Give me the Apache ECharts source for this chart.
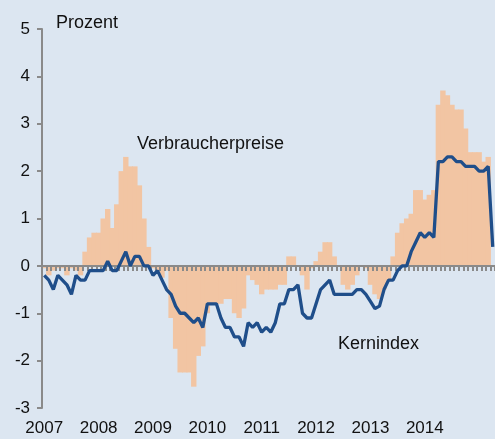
<!DOCTYPE html>
<html>
<head>
<meta charset="utf-8">
<script src="https://cdn.jsdelivr.net/npm/echarts@6/dist/echarts.min.js"></script>
<style>
  html, body { margin: 0; padding: 0; background: #dce6f1; }
  #main { width: 495px; height: 439px; }
</style>
</head>
<body>
<div id="main"></div>
<script>
// Jahre der x-Achse (Beschriftung jeweils im Januar)
const years = ['2007', '2008', '2009', '2010', '2011', '2012', '2013', '2014', '2015']
const shownYears = ['2007', '2008', '2009', '2010', '2011', '2012', '2013', '2014']
const monthCount = 100

// Verbraucherpreise, Veränderung in Prozent (Balken)
const verbraucherpreise = [
  -0.05, -0.2, -0.1, -0.05, -0.05, -0.2, -0.05, -0.1, -0.2,
  0.3, 0.6, 0.7, 0.7, 1.0, 1.2, 0.8, 1.3, 2.0, 2.3, 2.1, 2.1, 1.7, 1.0, 0.4,
  -0.05, -0.1, -0.25, -0.1, -1.1, -1.75, -2.25, -2.25, -2.25, -2.55, -1.9, -1.7,
  -1.0, -0.8, -0.8, -0.8, -0.7, -0.7, -1.0, -1.1, -0.9, -0.2, -0.3, -0.4,
  -0.6, -0.5, -0.5, -0.5, -0.4, -0.4, 0.2, 0.2, 0.0, -0.2, -0.5, -0.05,
  0.1, 0.3, 0.5, 0.5, 0.2, 0.0, -0.4, -0.5, -0.4, -0.2, 0.0, -0.05,
  -0.4, -0.6, -0.7, -0.5, -0.3, 0.2, 0.7, 0.9, 1.0, 1.1, 1.6, 1.6,
  1.4, 1.5, 1.6, 3.4, 3.7, 3.6, 3.4, 3.3, 3.3, 2.9, 2.4, 2.4,
  2.4, 2.2, 2.3, null
]

// Kernindex (Linie)
const kernindex = [
  -0.2, -0.3, -0.5, -0.2, -0.3, -0.4, -0.6, -0.2, -0.3, -0.3, -0.1, -0.1,
  -0.1, -0.1, 0.1, -0.1, -0.1, 0.1, 0.3, 0.0, 0.2, 0.2, 0.0, 0.0,
  -0.2, -0.1, -0.3, -0.5, -0.6, -0.85, -1.0, -1.0, -1.1, -1.2, -1.1, -1.3,
  -0.8, -0.8, -0.8, -1.1, -1.3, -1.3, -1.5, -1.5, -1.7, -1.2, -1.3, -1.2,
  -1.4, -1.3, -1.4, -1.2, -0.8, -0.8, -0.5, -0.5, -0.4, -1.0, -1.1, -1.1,
  -0.8, -0.5, -0.4, -0.3, -0.6, -0.6, -0.6, -0.6, -0.6, -0.5, -0.5, -0.6,
  -0.75, -0.9, -0.85, -0.5, -0.3, -0.3, -0.1, 0.0, 0.0, 0.3, 0.5, 0.7,
  0.6, 0.7, 0.6, 2.2, 2.2, 2.3, 2.3, 2.2, 2.2, 2.1, 2.1, 2.1,
  2.0, 2.0, 2.1, 0.4
]

// Monatskategorien
const months = []
years.forEach(y => {
  for (let m = 1; m <= 12; m++) months.push(y + '-' + (m < 10 ? '0' + m : m))
})
months.length = monthCount

const font = 'Liberation Sans, Arial, sans-serif'
const chart = echarts.init(document.getElementById('main'))
chart.setOption({
  backgroundColor: '#dce6f1',
  animation: false,
  grid: { left: 42, right: -1, top: 29, bottom: 31 },
  xAxis: [
    {
      type: 'category',
      data: months,
      z: 5,
      axisLine: { onZero: true, lineStyle: { color: '#8a8a8a', width: 2 } },
      axisTick: { show: true, interval: 0, length: 5, lineStyle: { color: '#8a8a8a', width: 2 } },
      axisLabel: { show: false }
    },
    {
      type: 'category',
      data: months,
      position: 'bottom',
      axisLine: { show: false, onZero: false },
      axisTick: { show: false },
      axisLabel: {
        interval: (i, v) => i % 12 === 0 && shownYears.includes(v.slice(0, 4)),
        formatter: v => v.slice(0, 4),
        fontSize: 17,
        fontFamily: font,
        color: '#111',
        margin: 12
      }
    }
  ],
  yAxis: {
    type: 'value',
    min: -3,
    max: 5,
    interval: 1,
    splitLine: { show: false },
    axisLine: { show: true, onZero: false, lineStyle: { color: '#8a8a8a', width: 2 } },
    axisTick: { show: true, length: 5, lineStyle: { color: '#8a8a8a', width: 2 } },
    axisLabel: { fontSize: 17, fontFamily: font, color: '#111', margin: 12 }
  },
  series: [
    {
      name: 'Verbraucherpreise',
      type: 'bar',
      data: verbraucherpreise,
      barWidth: 5.4,
      z: 2,
      itemStyle: { color: '#f2c5a3' }
    },
    {
      name: 'Kernindex',
      type: 'line',
      data: kernindex,
      symbol: 'none',
      z: 10,
      lineStyle: { color: '#1f4e8a', width: 3.3 }
    }
  ],
  graphic: [
    { type: 'text', left: 56, top: 14, style: { text: 'Prozent', font: '18px ' + font, fill: '#111' } },
    { type: 'text', left: 137, top: 135, style: { text: 'Verbraucherpreise', font: '18px ' + font, fill: '#111' } },
    { type: 'text', left: 338, top: 335, style: { text: 'Kernindex', font: '18px ' + font, fill: '#111' } }
  ]
})
</script>
</body>
</html>
